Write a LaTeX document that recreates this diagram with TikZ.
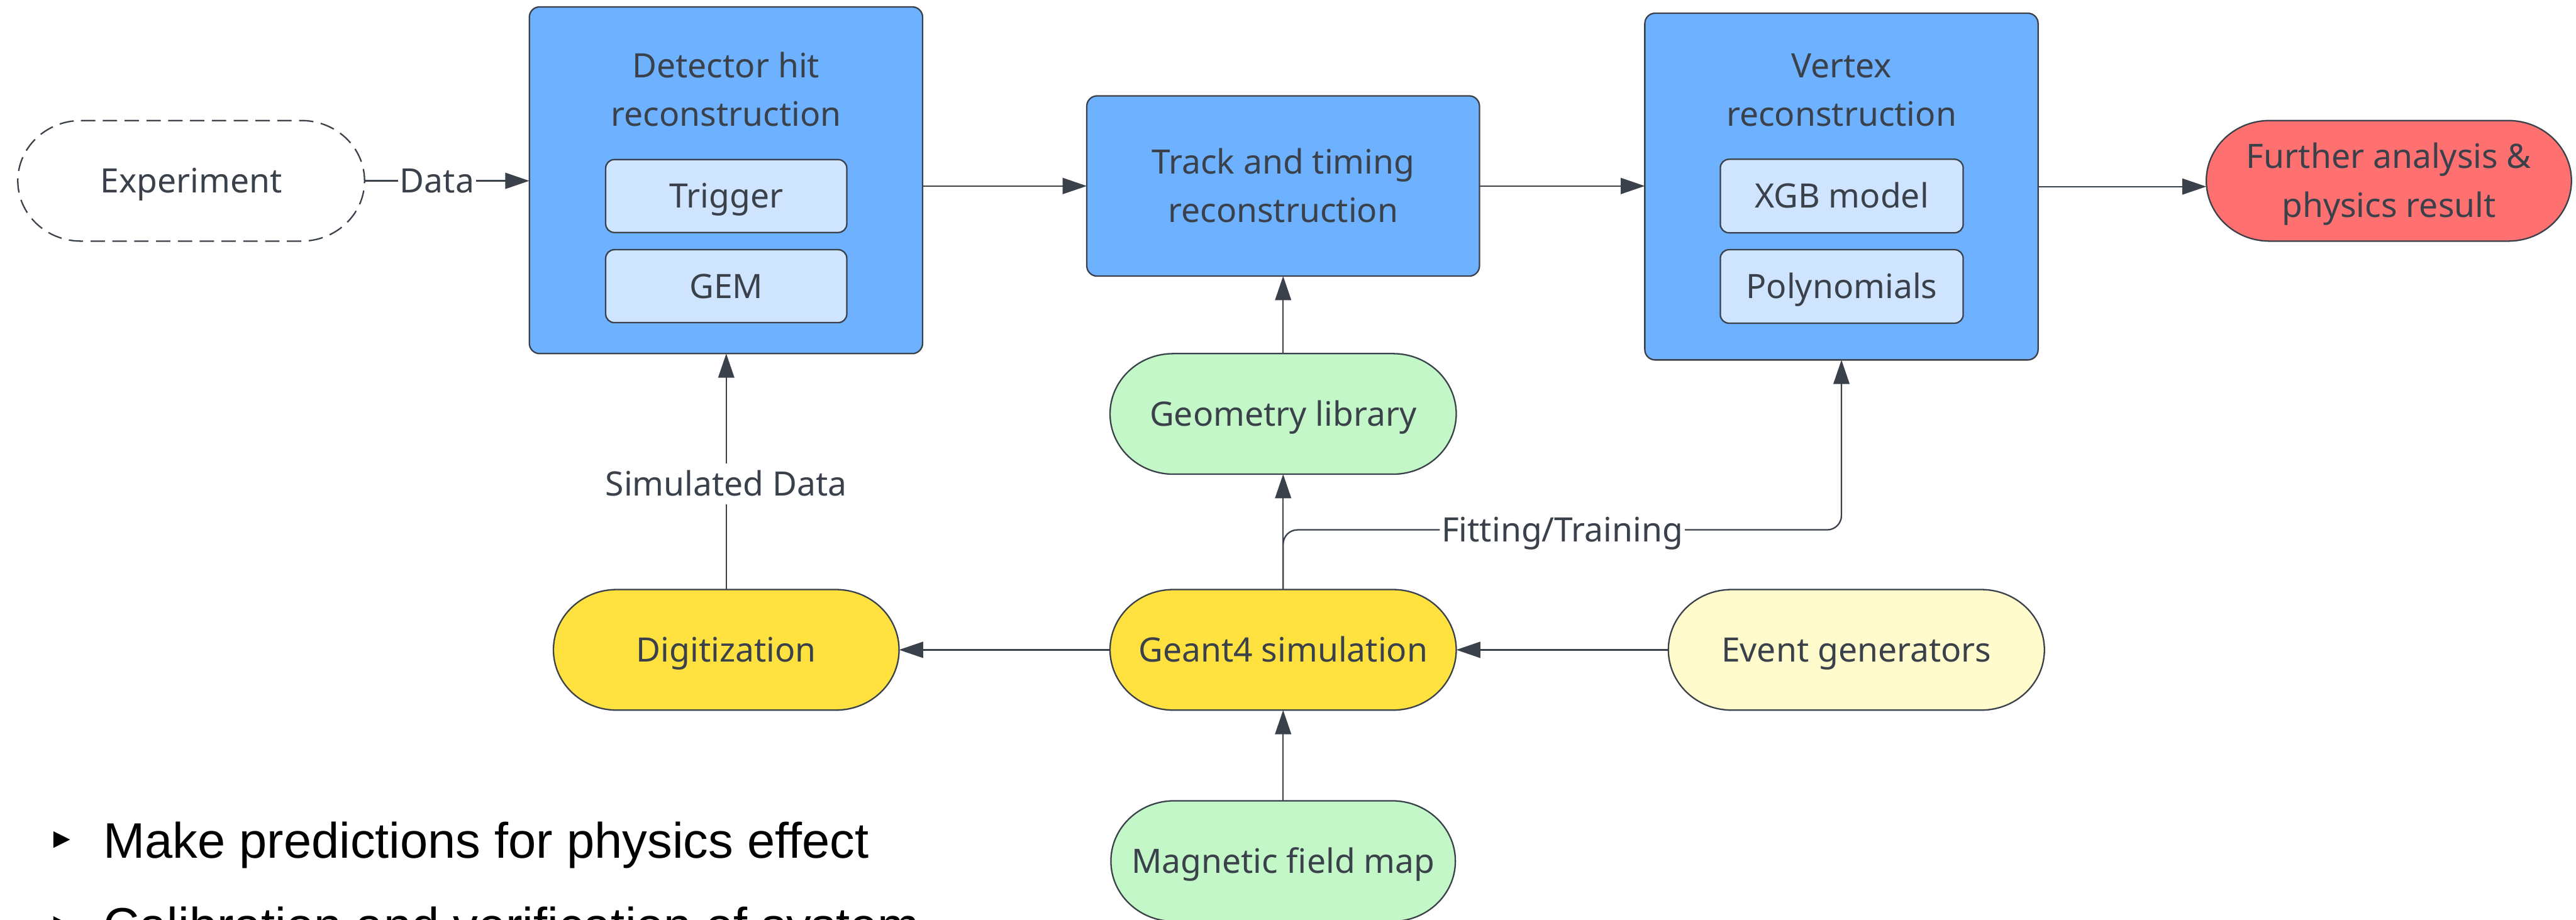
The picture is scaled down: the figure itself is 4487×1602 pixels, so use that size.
\documentclass[tikz,border=0pt]{standalone}
\usepackage{fontspec}
\setmainfont{Noto Sans}
\newfontfamily\slidefont{Liberation Sans}
\usetikzlibrary{arrows.meta,calc,backgrounds}

\definecolor{ink}{HTML}{3A414A}
\definecolor{boxblue}{HTML}{6DB1FF}
\definecolor{subblue}{HTML}{CFE4FF}
\definecolor{redfill}{HTML}{FF7070}
\definecolor{greenfill}{HTML}{C3F7C8}
\definecolor{yellowfill}{HTML}{FFE140}
\definecolor{paleyellow}{HTML}{FFFBCC}

% two centred lines whose baseline is the first line's baseline
\newcommand\twoline[2]{\begin{tabular}[t]{@{}c@{}}#1\\#2\end{tabular}}

% terminator outline (straight top and bottom, half-ellipse ends) around a node
\newcommand\pill[2]{%
  \path[#2] let \p1=(#1.north west), \p2=(#1.south east) in
    (\x1+22pt,\y1) -- (\x2-22pt,\y1)
    arc[start angle=90,end angle=-90,x radius=22pt,y radius={(\y1-\y2)/2}]
    -- (\x1+22pt,\y2)
    arc[start angle=270,end angle=90,x radius=22pt,y radius={(\y1-\y2)/2}]
    -- cycle;}

\tikzset{
  every node/.style={inner sep=0pt, outer sep=0pt, text=ink, align=center},
  bluebox/.style={draw=ink, line width=0.5pt, fill=boxblue, rounded corners=3.6pt},
  subbox/.style={draw=ink, line width=0.5pt, fill=subblue, rounded corners=3pt,
    minimum width=84pt, minimum height=25.4pt, text height=8.4pt, text depth=0pt},
  oneline/.style={minimum height=42pt, text height=8.4pt, text depth=0pt},
  twolines/.style={text height=8.4pt, text depth=17pt},
  pilledge/.style={draw=ink, line width=0.5pt},
  arr/.style={draw=ink, line width=0.5pt, -{Triangle[length=8.4pt,width=5.6pt]}},
  lbl/.style={fill=white, inner xsep=0.6pt, inner ysep=3pt, text height=8.4pt, text depth=0pt},
  bullettext/.style={anchor=base west, text=black, font=\slidefont\fontsize{17.4}{20}\selectfont}
}

\begin{document}
\begin{tikzpicture}[x=0.2pt, y=-0.2pt, font=\fontsize{11.7}{17}\selectfont]
\useasboundingbox (0,0) rectangle (4487,1602);
\clip (0,0) rectangle (4487,1602);

% top row
\node[oneline, minimum width=120.8pt] (exp) at (333,315) {Experiment};

\node[bluebox, minimum width=137pt, minimum height=120.8pt] (det) at (1264.5,314) {};
\node[anchor=base] (dettitle) at (1264.5,135) {\twoline{Detector hit}{reconstruction}};
\node[subbox] (trig) at (1265,341.5) {Trigger};
\node[subbox] (gem) at (1265,498.5) {GEM};

\node[bluebox, twolines, minimum width=136.8pt, minimum height=62.8pt] (track) at (2235,324)
  {\twoline{Track and timing}{reconstruction}};

\node[bluebox, minimum width=137pt, minimum height=120.8pt] (vert) at (3207.5,325) {};
\node[anchor=base] (verttitle) at (3207.5,135) {\twoline{Vertex}{reconstruction}};
\node[subbox, minimum width=84.6pt, minimum height=25.6pt] (xgb) at (3208,341.5) {XGB model};
\node[subbox, minimum width=84.6pt, minimum height=25.6pt] (poly) at (3208,499) {Polynomials};

\node[twolines, minimum width=127.2pt, minimum height=42pt] (further) at (4161,315)
  {\twoline{Further analysis \&}{physics result}};

% simulation chain
\node[oneline, minimum width=120.6pt] (geo) at (2235,721) {Geometry library};
\node[oneline, minimum width=120.4pt] (digi) at (1265,1132) {Digitization};
\node[oneline, minimum width=120.6pt] (geant) at (2235,1132) {Geant4 simulation};
\node[oneline, minimum width=131pt] (evgen) at (3233.5,1132) {Event generators};
\node[oneline, minimum width=120pt] (mag) at (2235,1500) {Magnetic field map};

\begin{scope}[on background layer]
  \pill{exp}{pilledge, dash pattern=on 5pt off 2.6pt}
  \pill{further}{pilledge, fill=redfill}
  \pill{geo}{pilledge, fill=greenfill}
  \pill{digi}{pilledge, fill=yellowfill}
  \pill{geant}{pilledge, fill=yellowfill}
  \pill{evgen}{pilledge, fill=paleyellow}
  \pill{mag}{pilledge, fill=greenfill}
\end{scope}

% connectors
\coordinate (fitrow) at (2720,923);
\draw[arr] (exp.east) -- node[lbl, pos=0.44] {Data} (exp.east -| det.west);
\draw[arr] (det.east |- track.west) -- (track.west);
\draw[arr] (track.east) -- (track.east -| vert.west);
\draw[arr] (vert.east) -- (vert.east -| further.west);
\draw[arr] (geo.north) -- (track.south);
\draw[arr] (geant.north) -- (geo.south);
\draw[arr, rounded corners=5pt] (geant.north) -- (geant.north |- fitrow)
  -- node[lbl] {Fitting/Training} (vert.south |- fitrow) -- (vert.south);
\draw[arr] (digi.north) -- node[lbl, pos=0.448] {Simulated Data} (digi.north |- det.south);
\draw[arr] (geant.west) -- (digi.east);
\draw[arr] (evgen.west) -- (geant.east);
\draw[arr] (mag.north) -- (geant.south);

% bullet list
\fill (93,1448) -- (122,1462.5) -- (93,1477) -- cycle;
\node[bullettext] (point1) at (180,1495) {Make predictions for physics effect};
\fill (93,1596) -- (122,1610.5) -- (93,1625) -- cycle;
\node[bullettext] (point2) at (180,1643) {Calibration and verification of system};
\end{tikzpicture}
\end{document}
